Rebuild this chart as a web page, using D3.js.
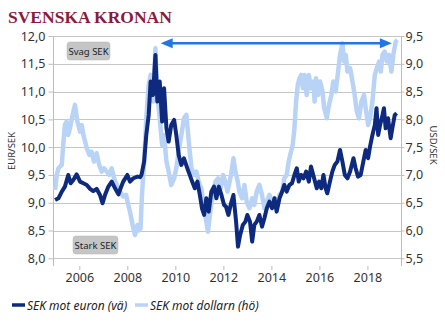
<!DOCTYPE html>
<html><head><meta charset="utf-8">
<script src="https://cdn.jsdelivr.net/npm/d3@7"></script>
<style>body{margin:0;background:#fff}</style>
</head><body><svg id="c" width="445" height="326"></svg>
<script>
const title = "SVENSKA KRONAN";
const eurLabel = "SEK mot euron (vä)";
const usdLabel = "SEK mot dollarn (hö)";
const leftTicks = [8, 8.5, 9, 9.5, 10, 10.5, 11, 11.5, 12];
const rightTicks = [5.5, 6, 6.5, 7, 7.5, 8, 8.5, 9, 9.5];
const yearTicks = [2006, 2008, 2010, 2012, 2014, 2016, 2018];

const eurDates = [2004.99,2005.13,2005.27,2005.40,2005.54,2005.64,2005.75,2005.89,2006.03,2006.17,2006.31,2006.45,2006.58,2006.72,2006.86,2006.97,2007.07,2007.21,2007.35,2007.49,2007.63,2007.72,2007.83,2008.00,2008.11,2008.25,2008.42,2008.53,2008.59,2008.70,2008.79,2008.89,2008.97,2009.07,2009.17,2009.25,2009.35,2009.45,2009.53,2009.63,2009.72,2009.83,2009.95,2010.04,2010.14,2010.25,2010.36,2010.50,2010.60,2010.70,2010.81,2010.92,2011.02,2011.11,2011.20,2011.29,2011.39,2011.50,2011.61,2011.71,2011.81,2011.92,2012.03,2012.11,2012.21,2012.32,2012.42,2012.53,2012.61,2012.70,2012.81,2012.92,2013.00,2013.11,2013.20,2013.29,2013.39,2013.50,2013.61,2013.71,2013.81,2013.92,2014.03,2014.13,2014.22,2014.34,2014.45,2014.54,2014.64,2014.75,2014.86,2014.96,2015.06,2015.14,2015.24,2015.34,2015.45,2015.56,2015.65,2015.77,2015.89,2015.99,2016.08,2016.17,2016.26,2016.33,2016.44,2016.54,2016.64,2016.75,2016.86,2016.96,2017.06,2017.17,2017.28,2017.42,2017.51,2017.61,2017.72,2017.83,2017.93,2018.03,2018.11,2018.21,2018.31,2018.38,2018.45,2018.53,2018.63,2018.69,2018.76,2018.86,2018.97,2019.04,2019.14,2019.22];
const eurValues = [9.05,9.08,9.20,9.29,9.50,9.35,9.41,9.51,9.38,9.35,9.32,9.25,9.21,9.25,9.14,8.99,9.14,9.29,9.38,9.26,9.15,9.26,9.38,9.50,9.38,9.44,9.47,9.46,9.50,9.74,10.22,10.58,11.18,10.94,11.66,10.82,11.18,10.46,11.06,10.34,10.10,10.40,10.49,10.22,9.86,9.68,9.80,9.62,9.50,9.38,9.26,9.38,9.14,8.90,8.78,9.08,8.84,9.20,9.29,9.08,9.29,9.14,8.96,8.93,8.78,8.99,9.14,8.66,8.21,8.42,8.60,8.66,8.78,8.66,8.30,8.60,8.66,8.78,8.57,8.72,8.90,9.02,8.90,9.08,8.84,9.08,9.20,9.32,9.20,9.32,9.35,9.50,9.62,9.38,9.50,9.44,9.56,9.38,9.65,9.46,9.26,9.38,9.26,9.50,9.26,9.17,9.38,9.56,9.68,9.74,9.95,9.74,9.50,9.44,9.56,9.80,9.62,9.47,9.50,9.74,9.95,9.80,10.01,10.22,10.40,10.70,10.22,10.40,10.58,10.70,10.34,10.52,10.16,10.34,10.58,10.61];

const usdDates = [2004.99,2005.06,2005.13,2005.27,2005.33,2005.40,2005.47,2005.54,2005.64,2005.72,2005.82,2005.92,2006.03,2006.10,2006.17,2006.31,2006.42,2006.51,2006.61,2006.72,2006.83,2006.93,2007.03,2007.14,2007.25,2007.35,2007.45,2007.56,2007.70,2007.83,2007.95,2008.04,2008.11,2008.22,2008.32,2008.42,2008.48,2008.55,2008.61,2008.70,2008.79,2008.89,2008.97,2009.07,2009.17,2009.25,2009.35,2009.45,2009.53,2009.63,2009.72,2009.83,2009.95,2010.04,2010.14,2010.25,2010.36,2010.46,2010.56,2010.67,2010.78,2010.88,2010.97,2011.08,2011.20,2011.29,2011.36,2011.47,2011.57,2011.67,2011.78,2011.89,2011.99,2012.08,2012.17,2012.32,2012.42,2012.50,2012.60,2012.67,2012.78,2012.88,2012.97,2013.09,2013.20,2013.29,2013.39,2013.50,2013.61,2013.71,2013.81,2013.92,2014.03,2014.13,2014.22,2014.34,2014.45,2014.54,2014.64,2014.72,2014.82,2014.89,2014.96,2015.03,2015.10,2015.17,2015.24,2015.31,2015.38,2015.47,2015.56,2015.65,2015.75,2015.80,2015.86,2015.95,2016.03,2016.13,2016.20,2016.31,2016.40,2016.50,2016.58,2016.68,2016.78,2016.86,2016.96,2017.03,2017.10,2017.17,2017.28,2017.38,2017.47,2017.56,2017.65,2017.75,2017.86,2017.93,2018.03,2018.11,2018.21,2018.31,2018.39,2018.49,2018.56,2018.63,2018.72,2018.81,2018.90,2019.00,2019.08,2019.18,2019.25];
const usdValues = [6.73,7.00,7.12,7.18,7.54,7.90,7.96,7.72,7.90,8.08,8.26,7.96,7.78,7.90,7.72,7.48,7.36,7.42,7.24,7.39,7.18,7.06,7.12,7.06,7.00,7.12,6.94,6.82,6.70,6.61,6.64,6.46,6.34,6.10,5.92,6.10,6.00,6.04,6.64,7.24,8.02,8.62,8.80,8.32,9.28,8.44,8.02,7.54,7.72,7.24,7.06,6.82,6.94,7.12,7.42,7.72,8.02,8.08,7.60,7.12,7.00,7.06,6.88,6.76,6.40,6.16,5.98,6.40,6.64,6.88,6.94,6.76,7.00,6.88,6.70,7.00,7.30,7.06,6.88,6.70,6.58,6.82,6.52,6.40,6.58,6.46,6.70,6.82,6.64,6.40,6.52,6.64,6.52,6.58,6.46,6.64,6.70,6.94,7.00,7.24,7.42,7.54,7.84,8.32,8.62,8.74,8.80,8.56,8.80,8.44,8.80,8.56,8.68,8.32,8.74,8.44,8.68,8.50,8.20,8.02,8.26,8.44,8.68,8.50,8.86,9.16,9.37,9.04,9.16,8.86,8.92,8.68,8.44,8.14,8.02,8.32,8.44,8.20,7.90,8.02,8.32,8.80,8.92,9.04,8.86,9.16,9.22,9.04,9.16,8.86,9.16,9.40,9.43];

const W = 445, H = 326;
const plot = {left: 53, right: 401, top: 36, bottom: 258.3};
const svg = d3.select("#c");
const font = "'Noto Sans', sans-serif";

const x = d3.scaleLinear().domain([2004.904, 2019.40]).range([plot.left, plot.right]);
const yL = d3.scaleLinear().domain([8, 12]).range([plot.bottom, plot.top]);
const yR = d3.scaleLinear().domain([5.5, 9.5]).range([plot.bottom, plot.top]);
const fmt = v => d3.format(".1f")(v).replace(".", ",");

// title
svg.append("text").attr("x", 8).attr("y", 23).text(title)
  .attr("font-family", "'Liberation Serif', 'Times New Roman', serif")
  .attr("font-weight", "bold").attr("font-size", 17.5).attr("fill", "#8b1a3c");

// gridlines
svg.append("g").selectAll("line").data(leftTicks).join("line")
  .attr("x1", plot.left).attr("x2", plot.right)
  .attr("y1", d => Math.round(yL(d)) + 0.5).attr("y2", d => Math.round(yL(d)) + 0.5)
  .attr("stroke", "#c6c6c6").attr("stroke-width", 1);

const axisBottomY = 266;
// axes lines
svg.append("line").attr("x1", plot.left + 0.5).attr("x2", plot.left + 0.5)
  .attr("y1", plot.top).attr("y2", axisBottomY).attr("stroke", "#bdbdbd");
svg.append("line").attr("x1", plot.right + 0.5).attr("x2", plot.right + 0.5)
  .attr("y1", plot.top).attr("y2", axisBottomY).attr("stroke", "#bdbdbd");

// left axis
const gL = svg.append("g").attr("transform", `translate(${plot.left + 0.5},0)`)
  .call(d3.axisLeft(yL).tickValues(leftTicks).tickFormat(fmt).tickSize(5).tickPadding(3));
gL.select(".domain").remove();
gL.selectAll("line").attr("stroke", "#bdbdbd");
gL.selectAll("text").attr("font-family", font).attr("font-size", 12.5).attr("fill", "#333");

const gR = svg.append("g").attr("transform", `translate(${plot.right + 0.5},0)`)
  .call(d3.axisRight(yR).tickValues(rightTicks).tickFormat(fmt).tickSize(3).tickPadding(1));
gR.select(".domain").remove();
gR.selectAll("line").attr("stroke", "#bdbdbd");
gR.selectAll("text").attr("font-family", font).attr("font-size", 12.5).attr("fill", "#333");

const gB = svg.append("g").attr("transform", `translate(0,${axisBottomY})`)
  .call(d3.axisBottom(x).tickValues(yearTicks).tickFormat(d3.format("d")).tickSize(4).tickPadding(3));
gB.select(".domain").remove();
gB.selectAll("line").attr("stroke", "#bdbdbd");
gB.selectAll("text").attr("font-family", font).attr("font-size", 12.5).attr("fill", "#333");

// axis titles
svg.append("text").attr("transform", `translate(15,${(plot.top + axisBottomY) / 2}) rotate(-90)`)
  .attr("text-anchor", "middle").attr("font-family", font).attr("font-size", 9.5).attr("fill", "#333").text("EUR/SEK");
svg.append("text").attr("transform", `translate(430,${(plot.top + axisBottomY) / 2 - 6}) rotate(90)`)
  .attr("text-anchor", "middle").attr("font-family", font).attr("font-size", 9.5).attr("fill", "#333").text("USD/SEK");

// lines
const usdData = usdDates.map((d, i) => [d, usdValues[i]]);
const eurData = eurDates.map((d, i) => [d, eurValues[i]]);
svg.append("path").datum(usdData)
  .attr("d", d3.line().x(d => x(d[0])).y(d => yR(d[1])))
  .attr("fill", "none").attr("stroke", "#b9d3f7").attr("stroke-width", 4.5).attr("stroke-linejoin", "round");
svg.append("path").datum(eurData)
  .attr("d", d3.line().x(d => x(d[0])).y(d => yL(d[1])))
  .attr("fill", "none").attr("stroke", "#0e2a7e").attr("stroke-width", 4).attr("stroke-linejoin", "round");

// annotations
function badge(cx, cy, w, label) {
  svg.append("rect").attr("x", cx - w / 2).attr("y", cy - 9).attr("width", w).attr("height", 18)
    .attr("rx", 3).attr("fill", "#c5c5c5").attr("stroke", "#b5b5b5").attr("stroke-width", 0.5);
  svg.append("text").attr("x", cx).attr("y", cy + 3.5).attr("text-anchor", "middle")
    .attr("font-family", font).attr("font-size", 9.5).attr("fill", "#222").text(label);
}
badge(88.5, 51, 43, "Svag SEK");
badge(95.5, 245, 45, "Stark SEK");

// arrow
const ax1 = x(2009.39), ax2 = x(2019.02), ay = yL(11.87);
const arrowColor = "#2277e3";
svg.append("line").attr("x1", ax1 + 8).attr("x2", ax2 - 8).attr("y1", ay).attr("y2", ay)
  .attr("stroke", arrowColor).attr("stroke-width", 2.5);
svg.append("path").attr("d", `M${ax1},${ay} L${ax1 + 12},${ay - 5} L${ax1 + 12},${ay + 5} Z`).attr("fill", arrowColor);
svg.append("path").attr("d", `M${ax2},${ay} L${ax2 - 12},${ay - 5} L${ax2 - 12},${ay + 5} Z`).attr("fill", arrowColor);

// legend
const lg = svg.append("g").attr("transform", "translate(0,305)");
lg.append("line").attr("x1", 12).attr("x2", 25).attr("y1", 0).attr("y2", 0).attr("stroke", "#0e2a7e").attr("stroke-width", 3.5);
lg.append("text").attr("x", 27).attr("y", 4.5).attr("font-family", font).attr("font-style", "italic")
  .attr("font-size", 12).attr("fill", "#222").text(eurLabel);
lg.append("line").attr("x1", 135).attr("x2", 148).attr("y1", 0).attr("y2", 0).attr("stroke", "#b9d3f7").attr("stroke-width", 3.5);
lg.append("text").attr("x", 150).attr("y", 4.5).attr("font-family", font).attr("font-style", "italic")
  .attr("font-size", 12).attr("fill", "#222").text(usdLabel);
</script></body></html>
